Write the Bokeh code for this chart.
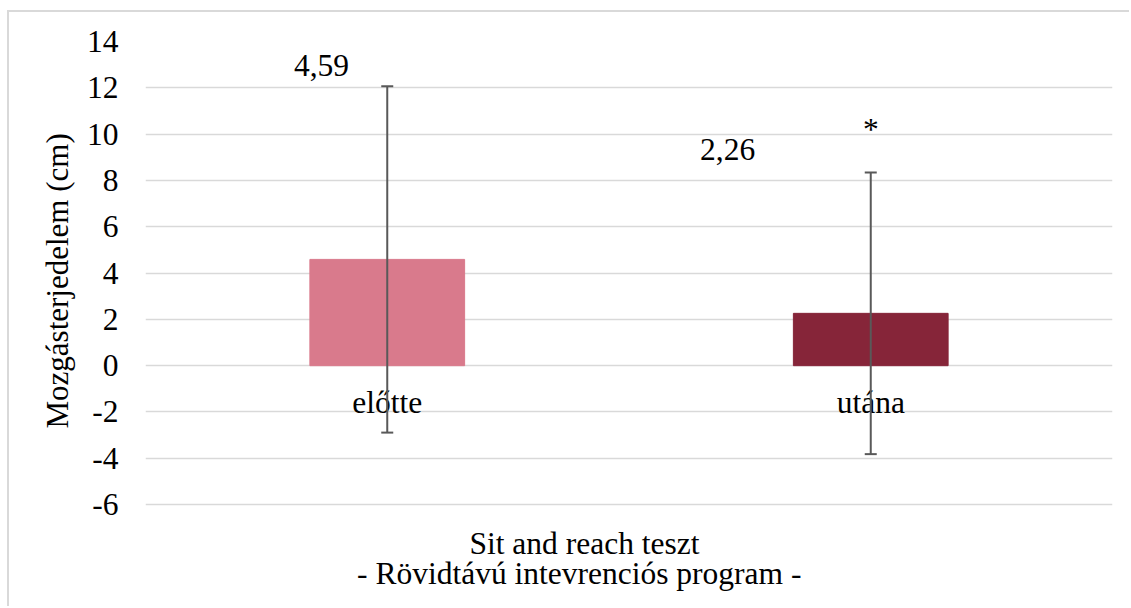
from bokeh.plotting import figure
from bokeh.models import (Range1d, FixedTicker, ColumnDataSource,
                          Whisker, TeeHead, Title)
from bokeh.core.properties import value
from bokeh.embed import file_html
from bokeh.resources import INLINE

# ---- data ----
categories = ["előtte", "utána"]
means = [4.59, 2.26]
sds = [7.48, 6.08]
bar_colors = ["#D97A8C", "#862539"]
mean_labels = ["4,59", "2,26"]
y_ticks = [-6, -4, -2, 0, 2, 4, 6, 8, 10, 12, 14]
y_title = "Mozgásterjedelem (cm)"
x_title_lines = ["Sit and reach teszt", "- Rövidtávú intevrenciós program -"]
signif_marks = ["", "*"]

FONT = "Liberation Serif"
FS = "31.5px"

xs = [i + 0.5 for i in range(len(categories))]

# the value axis runs from -6 to 14; the frame continues below it to hold the
# two-line category title, as in the original chart area
Y_MIN_FRAME = -10.4
PX_PER_UNIT = 463 / 20.0
frame_h = int(round((y_ticks[-1] - Y_MIN_FRAME) * PX_PER_UNIT))

p = figure(output_backend="svg", toolbar_location=None,
           frame_width=967, frame_height=frame_h,
           min_border_left=136, min_border_right=17,
           min_border_top=29, min_border_bottom=0,
           x_range=Range1d(0, len(categories)),
           y_range=Range1d(Y_MIN_FRAME, y_ticks[-1]),
           x_axis_location=None)
p.styles = {"margin-left": "7px", "margin-top": "10px",
            "border-top": "2px solid #D9D9D9", "border-left": "2px solid #D9D9D9"}
p.outline_line_color = None
p.background_fill_color = "white"
p.border_fill_color = "white"

# y axis
p.yaxis.ticker = FixedTicker(ticks=y_ticks)
p.yaxis.major_label_overrides = {t: str(t) for t in y_ticks}
p.yaxis.axis_line_color = None
p.yaxis.major_tick_line_color = None
p.yaxis.minor_tick_line_color = None
p.yaxis.major_tick_out = 0
p.yaxis.major_tick_in = 0
p.yaxis.minor_tick_out = 0
p.yaxis.major_label_text_font = FONT
p.yaxis.major_label_text_font_size = FS
p.yaxis.major_label_text_color = "black"
p.yaxis.major_label_standoff = 27

# y title (placed along the -6..14 span, not the full frame)
p.add_layout(Title(text=y_title, align="left", offset=178, standoff=17,
                   text_font=FONT, text_font_size="31px", text_color="black",
                   text_font_style="normal"), "left")

p.ygrid.ticker = FixedTicker(ticks=y_ticks)
p.ygrid.grid_line_color = "#D9D9D9"
p.ygrid.grid_line_width = 1.5
p.xgrid.grid_line_color = None

# bars
src = ColumnDataSource(dict(
    x=xs, top=means, color=bar_colors,
    upper=[m + s for m, s in zip(means, sds)],
    lower=[m - s for m, s in zip(means, sds)],
))
p.vbar(x="x", top="top", bottom=0, width=0.32, color="color", source=src)

# error bars
head_up = TeeHead(size=12, line_color="#595959", line_width=2)
head_lo = TeeHead(size=12, line_color="#595959", line_width=2)
w = Whisker(source=src, base="x", upper="upper", lower="lower",
            line_color="#595959", line_width=2,
            upper_head=head_up, lower_head=head_lo, level="annotation")
p.add_layout(w)

txt = dict(text_font=value(FONT), text_font_size=FS, text_color="black",
           text_baseline="alphabetic")

# category labels next to the zero line
p.text(x=xs, y=[0] * len(xs), text=categories, y_offset=37,
       text_align="center", **txt)

# value labels (moved by hand in the original)
label_dx = [-0.136, -0.296]
label_y = [12.96, 9.32]
p.text(x=[x + d for x, d in zip(xs, label_dx)], y=label_y, text=mean_labels,
       text_align="center", **txt)

# significance mark
sig_y = [None, 10.2]
sx = [x for x, s in zip(xs, signif_marks) if s]
sy = [y for y, s in zip(sig_y, signif_marks) if s]
st = [s for s in signif_marks if s]
p.text(x=sx, y=sy, text=st, text_align="center", **txt)

# category-axis title, two lines below the -6 gridline
title_x = [0.670, 0.4375]
title_y = [-7.69, -8.98]
p.text(x=title_x, y=title_y, text=x_title_lines, text_align="left", **txt)

open("out.html", "w").write(file_html(p, INLINE))
